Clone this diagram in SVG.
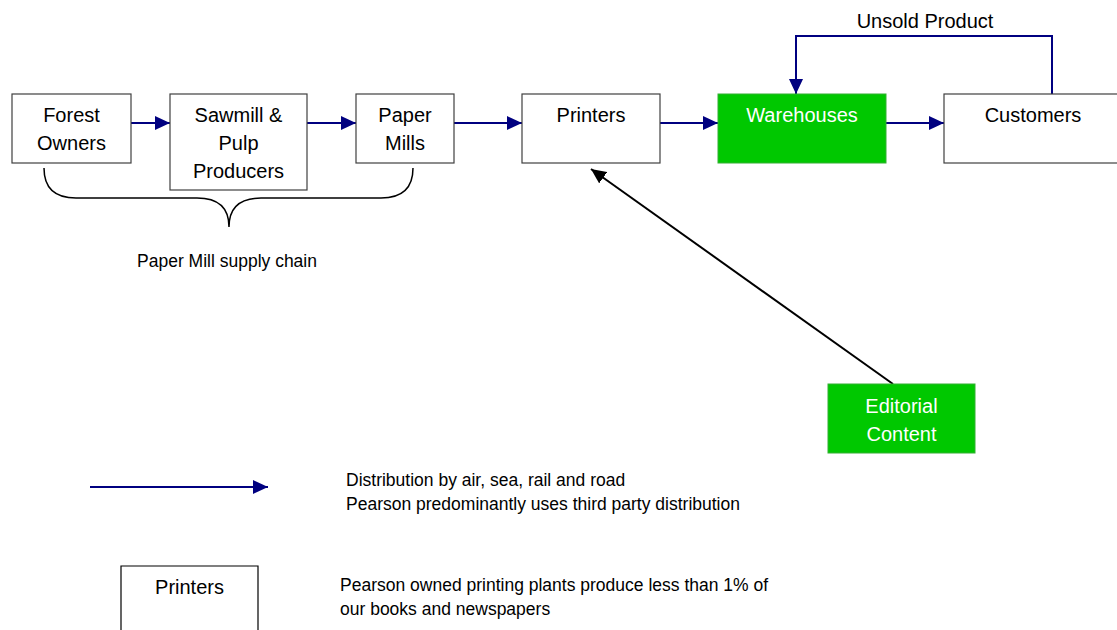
<svg xmlns="http://www.w3.org/2000/svg" width="1117" height="630" viewBox="0 0 1117 630">
<defs>
<style>
.box{fill:#fff;stroke:#404040;stroke-width:1.2}
.gbox{fill:#00C800;stroke:#33b033;stroke-width:1}
.lbl{font-family:"Liberation Sans",Arial,sans-serif;font-size:20px;fill:#000;text-anchor:middle}
.wl{fill:#fff}
.note{font-family:"Liberation Sans",Arial,sans-serif;font-size:17.5px;fill:#000}
.flow{fill:none;stroke:#000080;stroke-width:2}
</style>
<marker id="ah" markerWidth="15" markerHeight="14" refX="15" refY="7" orient="auto" markerUnits="userSpaceOnUse">
<path d="M0,0 L15,7 L0,14 Z" fill="#000080"/>
</marker>
<marker id="ahk" markerWidth="15" markerHeight="14" refX="15" refY="7" orient="auto" markerUnits="userSpaceOnUse">
<path d="M0,0 L15,7 L0,14 Z" fill="#000"/>
</marker>
</defs>
<rect width="1117" height="630" fill="#fff"/>
<g id="connectors">
<line class="flow" x1="131" y1="123" x2="170" y2="123" marker-end="url(#ah)"/>
<line class="flow" x1="307" y1="123" x2="356" y2="123" marker-end="url(#ah)"/>
<line class="flow" x1="454" y1="123" x2="522" y2="123" marker-end="url(#ah)"/>
<line class="flow" x1="660" y1="123" x2="718" y2="123" marker-end="url(#ah)"/>
<line class="flow" x1="886" y1="123" x2="944" y2="123" marker-end="url(#ah)"/>
<polyline class="flow" points="1052,94 1052,36 796,36 796,94" marker-end="url(#ah)"/>
<line x1="893" y1="384" x2="591" y2="169" stroke="#000" stroke-width="2" marker-end="url(#ahk)"/>
</g>
<g id="forest-owners"><rect class="box" x="12" y="94" width="119" height="69"/><text class="lbl" x="71.5" y="122">Forest</text><text class="lbl" x="71.5" y="150">Owners</text></g>
<g id="sawmill"><rect class="box" x="170" y="94" width="137" height="96"/><text class="lbl" x="238.5" y="122">Sawmill &amp;</text><text class="lbl" x="238.5" y="150">Pulp</text><text class="lbl" x="238.5" y="178">Producers</text></g>
<g id="paper-mills"><rect class="box" x="356" y="94" width="98" height="69"/><text class="lbl" x="405" y="122">Paper</text><text class="lbl" x="405" y="150">Mills</text></g>
<g id="printers"><rect class="box" x="522" y="94" width="138" height="69"/><text class="lbl" x="591" y="122">Printers</text></g>
<g id="warehouses"><rect class="gbox" x="718" y="94" width="168" height="69"/><text class="lbl wl" x="802" y="122">Warehouses</text></g>
<g id="customers"><rect class="box" x="944" y="94" width="180" height="69"/><text class="lbl" x="1033" y="122">Customers</text></g>
<g id="unsold-label"><text class="lbl" x="925" y="28">Unsold Product</text></g>
<g id="editorial"><rect class="gbox" x="828" y="384" width="147" height="69"/><text class="lbl wl" x="901.5" y="413">Editorial</text><text class="lbl wl" x="901.5" y="441">Content</text></g>
<g id="brace">
<path d="M44,168 C44,188 54,198 76,198 L197,198 C217,198 229,206 229,227 C229,206 241,198 261,198 L381,198 C403,198 413,188 413,168" fill="none" stroke="#000" stroke-width="1.5"/>
<text class="note" x="227" y="267" text-anchor="middle">Paper Mill supply chain</text>
</g>
<g id="legend-arrow">
<line class="flow" x1="90" y1="487" x2="268" y2="487" marker-end="url(#ah)"/>
<text class="note" x="346" y="486">Distribution by air, sea, rail and road</text>
<text class="note" x="346" y="510">Pearson predominantly uses third party distribution</text>
</g>
<g id="legend-printers">
<path d="M121,632 L121,566 L258,566 L258,632" fill="#fff" stroke="#000" stroke-width="1.2"/>
<text class="lbl" x="189.5" y="594">Printers</text>
<text class="note" x="340" y="591">Pearson owned printing plants produce less than 1% of</text>
<text class="note" x="340" y="615">our books and newspapers</text>
</g>
</svg>
